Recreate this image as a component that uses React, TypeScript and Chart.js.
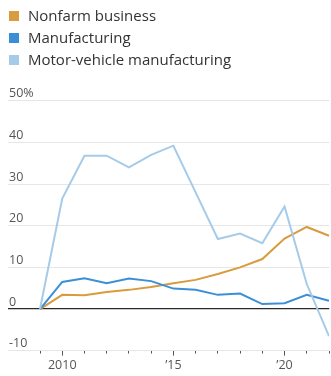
import React, { useEffect, useRef } from "react";
import { Chart, registerables } from "chart.js";

Chart.register(...registerables);

const years = [2009, 2010, 2011, 2012, 2013, 2014, 2015, 2016, 2017, 2018, 2019, 2020, 2021, 2022];
const nonfarm = [0, 3.4, 3.3, 4.1, 4.6, 5.3, 6.2, 7.0, 8.4, 10.0, 12.0, 16.9, 19.7, 17.6];
const manufacturing = [0, 6.5, 7.4, 6.2, 7.3, 6.7, 4.9, 4.6, 3.4, 3.7, 1.2, 1.4, 3.4, 2.0];
const motorVehicle = [0, 26.5, 36.8, 36.8, 34.0, 37.0, 39.2, 28.0, 16.8, 18.1, 15.8, 24.6, 6.0, -6.5];

const seriesNames = ["Nonfarm business", "Manufacturing", "Motor-vehicle manufacturing"];
const seriesColors = ["#d89b3e", "#3b8fd7", "#a6cbe9"];
const yTicks = [-10, 0, 10, 20, 30, 40, 50];
const xLabels: Record<number, string> = { 2010: "2010", 2015: "\u201915", 2020: "\u201920" };

const FONT = "'Open Sans', 'Noto Sans', sans-serif";

export default function App() {
  const ref = useRef<HTMLCanvasElement | null>(null);

  useEffect(() => {
    if (!ref.current) return;
    const seriesData = [nonfarm, manufacturing, motorVehicle];
    const chart = new Chart(ref.current, {
      type: "line",
      data: {
        datasets: seriesData.map((arr, i) => ({
          label: seriesNames[i],
          data: arr.map((v, j) => ({ x: years[j], y: v })),
          borderColor: seriesColors[i],
          backgroundColor: seriesColors[i],
          borderWidth: 2,
          pointRadius: 0,
          tension: 0,
          order: 3 - i,
        })),
      },
      options: {
        animation: false,
        responsive: false,
        maintainAspectRatio: false,
        layout: { padding: { top: 100.7, left: 6, right: 0, bottom: 0 } },
        plugins: { legend: { display: false }, tooltip: { enabled: false } },
        scales: {
          x: {
            type: "linear",
            min: 2007.56,
            max: 2022.01,
            afterBuildTicks: (scale: any) => {
              scale.ticks = years.map((v) => ({ value: v }));
            },
            afterFit: (scale: any) => {
              scale.height = 25.3;
            },
            border: { display: false },
            grid: {
              drawOnChartArea: false,
              drawTicks: true,
              tickLength: 5,
              tickColor: "#555",
              tickWidth: 1,
              tickBorderDash: (ctx: any) => (xLabels[ctx.tick?.value] ? [] : [2.5, 100]),
            },
            ticks: {
              autoSkip: false,
              maxRotation: 0,
              padding: 2,
              color: "#555",
              font: { family: FONT, size: 12.5 },
              callback: (v: any) => xLabels[v as number] ?? "",
            },
          },
          y: {
            min: -10,
            max: 50,
            afterBuildTicks: (scale: any) => {
              scale.ticks = yTicks.map((v) => ({ value: v }));
            },
            border: { display: false },
            grid: {
              drawTicks: false,
              color: (ctx: any) => (ctx.tick?.value === 0 ? "#2a2a2a" : "#e6e6e6"),
              lineWidth: (ctx: any) => (ctx.tick?.value === 0 ? 1.3 : 1),
            },
            ticks: {
              mirror: true,
              padding: 1,
              labelOffset: -7,
              color: "#555",
              font: { family: FONT, size: 12.5 },
              callback: (v: any) => (v === 50 ? "50%" : String(v)),
            },
          },
        },
      },
    } as any);
    return () => chart.destroy();
  }, []);

  const legendRows = seriesNames.map((name, i) => (
    <div
      key={name}
      style={{
        position: "absolute",
        left: 9,
        top: 4 + i * 22,
        height: 22,
        display: "flex",
        alignItems: "center",
        whiteSpace: "nowrap",
      }}
    >
      <span
        style={{
          display: "inline-block",
          width: 10,
          height: 10,
          marginTop: 2,
          background: seriesColors[i],
          marginRight: 9,
        }}
      />
      <span style={{ fontFamily: FONT, fontSize: 15, color: "#333", lineHeight: "22px" }}>{name}</span>
    </div>
  ));

  return (
    <div style={{ position: "absolute", left: 0, top: 0, width: 331, height: 376, background: "#fff", overflow: "hidden" }}>
      <canvas ref={ref} width={331} height={376} style={{ position: "absolute", left: 0, top: 0, width: 331, height: 376 }} />
      {legendRows}
    </div>
  );
}
